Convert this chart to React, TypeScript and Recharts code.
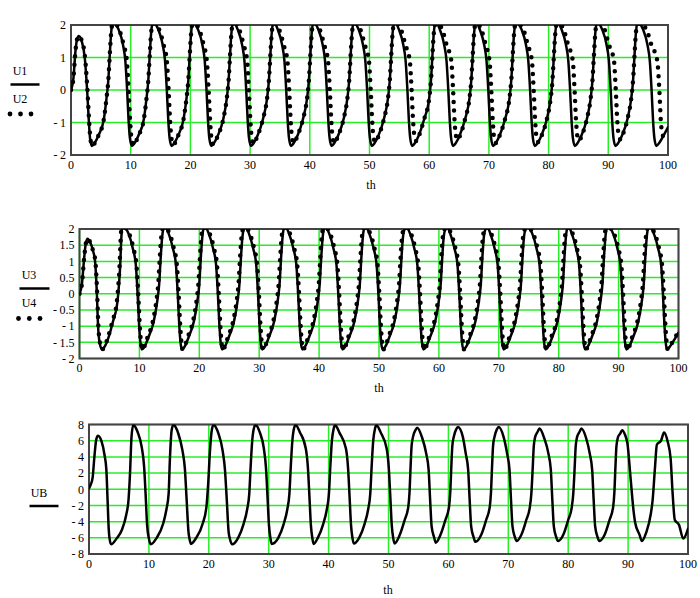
import React from "react";
import { LineChart, Line, XAxis, YAxis, CartesianGrid, ReferenceArea } from "recharts";

type Pt = [number, number];

const thTicks = [0, 10, 20, 30, 40, 50, 60, 70, 80, 90, 100];
const uTicks = [-2, -1, 0, 1, 2];
const u34Ticks = [-2, -1.5, -1, -0.5, 0, 0.5, 1, 1.5, 2];
const ubTicks = [-8, -6, -4, -2, 0, 2, 4, 6, 8];

// [th, U] points
const u1Points: Pt[] = [
  [0, 0], [0.4, 0.35], [0.75, 1.2], [1.0, 1.55], [1.3, 1.66], [1.8, 1.5], [2.3, 1.0], [2.7, 0], [3.0, -1.0], [3.2, -1.5], [3.5, -1.72],
  [4.0, -1.62], [4.6, -1.4], [5.5, -0.9], [5.95, -0.25], [6.25, 0.3], [6.5, 1.1], [6.7, 1.7], [6.9, 2.0], [7.2, 2.05],
  [8.0, 1.85], [8.7, 1.4], [9.1, 0.9], [9.4, 0], [9.65, -0.95], [9.87, -1.48], [10.2, -1.72],
  [10.7, -1.62], [11.3, -1.4], [12.2, -0.9], [12.65, -0.25], [12.95, 0.3], [13.2, 1.1], [13.4, 1.7], [13.6, 2.0], [13.9, 2.05],
  [14.65, 1.85], [15.35, 1.4], [15.75, 0.9], [16.05, 0], [16.3, -0.95], [16.52, -1.48], [16.85, -1.72],
  [17.35, -1.62], [17.95, -1.4], [18.85, -0.9], [19.35, -0.25], [19.65, 0.3], [19.9, 1.1], [20.1, 1.7], [20.3, 2.0], [20.6, 2.05],
  [21.3, 1.85], [22.0, 1.4], [22.4, 0.9], [22.7, 0], [22.95, -0.95], [23.17, -1.48], [23.5, -1.72],
  [24.0, -1.62], [24.6, -1.4], [25.5, -0.9], [26.1, -0.25], [26.4, 0.3], [26.65, 1.1], [26.85, 1.7], [27.05, 2.0], [27.35, 2.05],
  [27.95, 1.85], [28.65, 1.4], [29.05, 0.9], [29.35, 0], [29.6, -0.95], [29.82, -1.48], [30.15, -1.72],
  [30.65, -1.62], [31.25, -1.4], [32.15, -0.9], [32.85, -0.25], [33.15, 0.3], [33.4, 1.1], [33.6, 1.7], [33.8, 2.0], [34.1, 2.05],
  [34.65, 1.85], [35.35, 1.4], [35.75, 0.9], [36.05, 0], [36.3, -0.95], [36.52, -1.48], [36.85, -1.72],
  [37.35, -1.62], [37.95, -1.4], [38.85, -0.9], [39.55, -0.25], [39.85, 0.3], [40.1, 1.1], [40.3, 1.7], [40.5, 2.0], [40.8, 2.05],
  [41.45, 1.85], [42.15, 1.4], [42.55, 0.9], [42.85, 0], [43.1, -0.95], [43.32, -1.48], [43.65, -1.72],
  [44.15, -1.62], [44.75, -1.4], [45.65, -0.9], [46.3, -0.25], [46.6, 0.3], [46.85, 1.1], [47.05, 1.7], [47.25, 2.0], [47.55, 2.05],
  [48.2, 1.85], [48.9, 1.4], [49.3, 0.9], [49.6, 0], [49.85, -0.95], [50.07, -1.48], [50.4, -1.72],
  [50.9, -1.62], [51.5, -1.4], [52.4, -0.9], [53.1, -0.25], [53.4, 0.3], [53.65, 1.1], [53.85, 1.7], [54.05, 2.0], [54.35, 2.05],
  [54.95, 1.85], [55.65, 1.4], [56.05, 0.9], [56.35, 0], [56.6, -0.95], [56.82, -1.48], [57.15, -1.72],
  [57.65, -1.62], [58.25, -1.4], [59.15, -0.9], [60.0, -0.25], [60.3, 0.3], [60.55, 1.1], [60.75, 1.7], [60.95, 2.0], [61.25, 2.05],
  [61.8, 1.85], [62.5, 1.4], [62.9, 0.9], [63.2, 0], [63.45, -0.95], [63.67, -1.48], [64.0, -1.72],
  [64.5, -1.62], [65.1, -1.4], [66.0, -0.9], [66.75, -0.25], [67.05, 0.3], [67.3, 1.1], [67.5, 1.7], [67.7, 2.0], [68.0, 2.05],
  [68.5, 1.85], [69.2, 1.4], [69.6, 0.9], [69.9, 0], [70.15, -0.95], [70.37, -1.48], [70.7, -1.72],
  [71.2, -1.62], [71.8, -1.4], [72.7, -0.9], [73.45, -0.25], [73.75, 0.3], [74.0, 1.1], [74.2, 1.7], [74.4, 2.0], [74.7, 2.05],
  [75.5, 1.85], [76.2, 1.4], [76.6, 0.9], [76.9, 0], [77.15, -0.95], [77.37, -1.48], [77.7, -1.72],
  [78.2, -1.62], [78.8, -1.4], [79.7, -0.9], [80.35, -0.25], [80.65, 0.3], [80.9, 1.1], [81.1, 1.7], [81.3, 2.0], [81.6, 2.05],
  [82.2, 1.85], [82.9, 1.4], [83.3, 0.9], [83.6, 0], [83.85, -0.95], [84.07, -1.48], [84.4, -1.72],
  [84.9, -1.62], [85.5, -1.4], [86.4, -0.9], [87.05, -0.25], [87.35, 0.3], [87.6, 1.1], [87.8, 1.7], [88.0, 2.0], [88.3, 2.05],
  [89.0, 1.85], [89.7, 1.4], [90.1, 0.9], [90.4, 0], [90.65, -0.95], [90.87, -1.48], [91.2, -1.72],
  [91.7, -1.62], [92.3, -1.4], [93.2, -0.9], [93.85, -0.25], [94.15, 0.3], [94.4, 1.1], [94.6, 1.7], [94.8, 2.0], [95.1, 2.05],
  [95.85, 1.85], [96.55, 1.4], [96.95, 0.9], [97.25, 0], [97.5, -0.95], [97.72, -1.48], [98.05, -1.72],
  [98.55, -1.62], [99.2, -1.42], [100, -1.15],
];

const u2Points: Pt[] = [
  [0, 0], [0.4, 0.35], [0.75, 1.2], [1.0, 1.55], [1.3, 1.66], [1.8, 1.52], [2.35, 1.0], [2.75, 0], [3.05, -1.0], [3.25, -1.5], [3.55, -1.72],
  [4.0, -1.63], [4.6, -1.4], [5.5, -0.9], [5.95, -0.25], [6.25, 0.3], [6.5, 1.1], [6.7, 1.7], [6.9, 2.0], [7.3, 2.05],
  [8.1, 1.85], [8.8, 1.4], [9.35, 0.9], [9.65, 0], [9.9, -0.95], [10.12, -1.48], [10.45, -1.69],
  [11.3, -1.4], [12.2, -0.9], [12.65, -0.25], [12.95, 0.3], [13.2, 1.1], [13.4, 1.7], [13.6, 2.0], [14.0, 2.05],
  [14.8, 1.85], [15.5, 1.4], [16.05, 0.9], [16.35, 0], [16.6, -0.95], [16.82, -1.48], [17.15, -1.68],
  [17.95, -1.4], [18.85, -0.9], [19.35, -0.25], [19.65, 0.3], [19.9, 1.1], [20.1, 1.7], [20.3, 2.0], [20.7, 2.05],
  [21.5, 1.85], [22.2, 1.4], [22.75, 0.9], [23.05, 0], [23.3, -0.95], [23.52, -1.48], [23.85, -1.67],
  [24.6, -1.4], [25.5, -0.9], [26.1, -0.25], [26.4, 0.3], [26.65, 1.1], [26.85, 1.7], [27.05, 2.0], [27.5, 2.05],
  [28.2, 1.85], [28.9, 1.4], [29.5, 0.9], [29.8, 0], [30.05, -0.95], [30.27, -1.48], [30.6, -1.65],
  [31.25, -1.4], [32.15, -0.9], [32.85, -0.25], [33.15, 0.3], [33.4, 1.1], [33.6, 1.7], [33.8, 2.0], [34.25, 2.05],
  [34.9, 1.85], [35.6, 1.4], [36.25, 0.9], [36.55, 0], [36.8, -0.95], [37.02, -1.48], [37.35, -1.63],
  [37.95, -1.4], [38.85, -0.9], [39.55, -0.25], [39.85, 0.3], [40.1, 1.1], [40.3, 1.7], [40.5, 2.0], [40.95, 2.05],
  [41.7, 1.85], [42.4, 1.4], [43.05, 0.9], [43.35, 0], [43.6, -0.95], [43.82, -1.48], [44.15, -1.63],
  [44.75, -1.4], [45.65, -0.9], [46.3, -0.25], [46.6, 0.3], [46.85, 1.1], [47.05, 1.7], [47.25, 2.0], [47.7, 2.05],
  [48.5, 1.85], [49.2, 1.4], [49.9, 0.9], [50.2, 0], [50.45, -0.95], [50.67, -1.46], [51.0, -1.6],
  [51.5, -1.42], [52.4, -0.9], [53.1, -0.25], [53.4, 0.3], [53.65, 1.1], [53.85, 1.7], [54.05, 2.0], [54.5, 2.05],
  [55.3, 1.85], [56.0, 1.4], [56.75, 0.9], [57.05, 0], [57.3, -0.95], [57.52, -1.42], [57.85, -1.57],
  [58.3, -1.4], [59.15, -0.9], [60.0, -0.25], [60.3, 0.3], [60.55, 1.1], [60.75, 1.7], [60.95, 2.0], [61.4, 2.05],
  [62.2, 1.85], [62.9, 1.4], [63.7, 0.9], [64.0, 0], [64.25, -0.95], [64.47, -1.4], [64.8, -1.53],
  [65.2, -1.38], [66.0, -0.9], [66.75, -0.25], [67.05, 0.3], [67.3, 1.1], [67.5, 1.7], [67.7, 2.0], [68.1, 2.05],
  [68.75, 1.85], [69.45, 1.4], [70.1, 0.9], [70.4, 0], [70.65, -0.95], [70.87, -1.48], [71.2, -1.63],
  [71.8, -1.4], [72.7, -0.9], [73.45, -0.25], [73.75, 0.3], [74.0, 1.1], [74.2, 1.7], [74.4, 2.0], [74.85, 2.05],
  [75.8, 1.85], [76.5, 1.4], [77.2, 0.9], [77.5, 0], [77.75, -0.95], [77.97, -1.46], [78.3, -1.6],
  [78.8, -1.42], [79.7, -0.9], [80.35, -0.25], [80.65, 0.3], [80.9, 1.1], [81.1, 1.7], [81.3, 2.0], [81.75, 2.05],
  [82.55, 1.85], [83.25, 1.4], [84.05, 0.9], [84.35, 0], [84.6, -0.95], [84.82, -1.42], [85.15, -1.55],
  [85.55, -1.4], [86.4, -0.9], [87.05, -0.25], [87.35, 0.3], [87.6, 1.1], [87.8, 1.7], [88.0, 2.0], [88.45, 2.05],
  [89.4, 1.85], [90.1, 1.4], [90.95, 0.9], [91.25, 0], [91.5, -0.95], [91.72, -1.38], [92.05, -1.52],
  [92.4, -1.38], [93.2, -0.9], [93.85, -0.25], [94.15, 0.3], [94.4, 1.1], [94.6, 1.7], [94.8, 2.0], [95.3, 2.05],
  [96.4, 1.85], [97.2, 1.4], [98.2, 0.9], [98.55, 0], [98.8, -0.95], [99.05, -1.35], [99.4, -1.47], [100, -1.35],
];

// [th, U] points
const u3Points: Pt[] = [
  [0, 0], [0.4, 0.3], [0.8, 1.15], [1.05, 1.55], [1.35, 1.7], [1.8, 1.58], [2.3, 1.3], [2.6, 1.0], [2.9, 0], [3.1, -1.0], [3.35, -1.5], [3.75, -1.72],
  [4.25, -1.62], [4.85, -1.35], [5.6, -0.85], [6.3, -0.3], [6.6, 0.3], [6.8, 0.9], [6.95, 1.6], [7.1, 2.0], [7.4, 2.05],
  [8.2, 1.85], [8.9, 1.4], [9.4, 0.9], [9.7, 0], [9.95, -0.95], [10.15, -1.48], [10.4, -1.72],
  [10.9, -1.62], [11.5, -1.35], [12.4, -0.85], [13.0, -0.2], [13.3, 0.3], [13.55, 1.1], [13.8, 1.75], [14.0, 2.0], [14.3, 2.05],
  [14.9, 1.85], [15.6, 1.4], [16.1, 0.9], [16.4, 0], [16.65, -0.95], [16.85, -1.48], [17.1, -1.72],
  [17.6, -1.62], [18.2, -1.35], [19.1, -0.85], [19.7, -0.2], [20.0, 0.3], [20.25, 1.1], [20.5, 1.75], [20.7, 2.0], [21.0, 2.05],
  [21.6, 1.85], [22.3, 1.4], [22.8, 0.9], [23.1, 0], [23.35, -0.95], [23.55, -1.48], [23.8, -1.72],
  [24.3, -1.62], [24.9, -1.35], [25.8, -0.85], [26.4, -0.2], [26.7, 0.3], [26.95, 1.1], [27.2, 1.75], [27.45, 2.0], [27.75, 2.05],
  [28.3, 1.85], [29.0, 1.4], [29.5, 0.9], [29.8, 0], [30.05, -0.95], [30.25, -1.48], [30.5, -1.72],
  [31.0, -1.62], [31.6, -1.35], [32.5, -0.85], [33.1, -0.2], [33.4, 0.3], [33.65, 1.1], [33.9, 1.75], [34.1, 2.0], [34.4, 2.05],
  [35.0, 1.85], [35.7, 1.4], [36.2, 0.9], [36.5, 0], [36.75, -0.95], [36.95, -1.48], [37.2, -1.72],
  [37.7, -1.62], [38.3, -1.35], [39.2, -0.85], [39.8, -0.2], [40.1, 0.3], [40.35, 1.1], [40.6, 1.75], [40.8, 2.0], [41.1, 2.05],
  [41.7, 1.85], [42.4, 1.4], [42.9, 0.9], [43.2, 0], [43.45, -0.95], [43.65, -1.48], [43.9, -1.72],
  [44.4, -1.62], [45.0, -1.35], [45.9, -0.85], [46.5, -0.2], [46.8, 0.3], [47.05, 1.1], [47.3, 1.75], [47.5, 2.0], [47.8, 2.05],
  [48.4, 1.85], [49.1, 1.4], [49.6, 0.9], [49.9, 0], [50.15, -0.95], [50.35, -1.48], [50.6, -1.72],
  [51.1, -1.62], [51.7, -1.35], [52.6, -0.85], [53.2, -0.2], [53.5, 0.3], [53.75, 1.1], [54.0, 1.75], [54.3, 2.0], [54.6, 2.05],
  [55.2, 1.85], [55.9, 1.4], [56.4, 0.9], [56.7, 0], [56.95, -0.95], [57.15, -1.48], [57.4, -1.72],
  [57.9, -1.62], [58.5, -1.35], [59.4, -0.85], [60.0, -0.2], [60.3, 0.3], [60.55, 1.1], [60.8, 1.75], [61.1, 2.0], [61.4, 2.05],
  [61.9, 1.85], [62.6, 1.4], [63.1, 0.9], [63.4, 0], [63.65, -0.95], [63.85, -1.48], [64.1, -1.72],
  [64.6, -1.62], [65.2, -1.35], [66.1, -0.85], [66.7, -0.2], [67.0, 0.3], [67.25, 1.1], [67.5, 1.75], [67.8, 2.0], [68.1, 2.05],
  [68.6, 1.85], [69.3, 1.4], [69.8, 0.9], [70.1, 0], [70.35, -0.95], [70.55, -1.48], [70.8, -1.72],
  [71.3, -1.62], [71.9, -1.35], [72.8, -0.85], [73.4, -0.2], [73.7, 0.3], [73.95, 1.1], [74.2, 1.75], [74.5, 2.0], [74.8, 2.05],
  [75.6, 1.85], [76.3, 1.4], [76.8, 0.9], [77.1, 0], [77.35, -0.95], [77.55, -1.48], [77.8, -1.72],
  [78.3, -1.62], [78.9, -1.35], [79.8, -0.85], [80.4, -0.2], [80.7, 0.3], [80.95, 1.1], [81.2, 1.75], [81.4, 2.0], [81.7, 2.05],
  [82.2, 1.85], [82.9, 1.4], [83.4, 0.9], [83.7, 0], [83.95, -0.95], [84.15, -1.48], [84.4, -1.72],
  [84.9, -1.62], [85.5, -1.35], [86.4, -0.85], [87.0, -0.2], [87.3, 0.3], [87.55, 1.1], [87.8, 1.75], [88.0, 2.0], [88.3, 2.05],
  [89.1, 1.85], [89.8, 1.4], [90.3, 0.9], [90.6, 0], [90.85, -0.95], [91.05, -1.48], [91.3, -1.72],
  [91.8, -1.62], [92.4, -1.35], [93.3, -0.85], [93.9, -0.2], [94.2, 0.3], [94.45, 1.1], [94.7, 1.75], [94.9, 2.0], [95.2, 2.05],
  [95.9, 1.85], [96.6, 1.4], [97.1, 0.9], [97.4, 0], [97.65, -0.95], [97.85, -1.48], [98.1, -1.72],
  [98.6, -1.62], [99.2, -1.45], [100, -1.2],
];

const u4Points: Pt[] = [
  [0, 0], [0.4, 0.3], [0.8, 1.15], [1.05, 1.55], [1.35, 1.7], [1.8, 1.58], [2.3, 1.3], [2.65, 1.0], [2.95, 0], [3.15, -1.0], [3.4, -1.5], [3.8, -1.72],
  [4.2, -1.62], [4.75, -1.35], [5.5, -0.85], [6.2, -0.3], [6.5, 0.3], [6.7, 0.9], [6.85, 1.6], [7.0, 2.0], [7.4, 2.05],
  [8.3, 1.85], [9.0, 1.4], [9.5, 0.9], [9.8, 0], [10.05, -0.95], [10.25, -1.48], [10.45, -1.72],
  [10.85, -1.62], [11.35, -1.35], [12.25, -0.85], [12.85, -0.2], [13.15, 0.3], [13.4, 1.1], [13.65, 1.75], [13.85, 2.0], [14.3, 2.05],
  [15.05, 1.85], [15.75, 1.4], [16.25, 0.9], [16.55, 0], [16.8, -0.95], [17.0, -1.48], [17.2, -1.72],
  [17.6, -1.62], [18.05, -1.35], [18.95, -0.85], [19.55, -0.2], [19.85, 0.3], [20.1, 1.1], [20.35, 1.75], [20.55, 2.0], [21.0, 2.05],
  [21.75, 1.85], [22.45, 1.4], [22.95, 0.9], [23.25, 0], [23.5, -0.95], [23.7, -1.48], [23.9, -1.72],
  [24.3, -1.62], [24.75, -1.35], [25.65, -0.85], [26.25, -0.2], [26.55, 0.3], [26.8, 1.1], [27.05, 1.75], [27.3, 2.0], [27.75, 2.05],
  [28.45, 1.85], [29.15, 1.4], [29.65, 0.9], [29.95, 0], [30.2, -0.95], [30.4, -1.48], [30.6, -1.72],
  [31.0, -1.62], [31.45, -1.35], [32.35, -0.85], [32.95, -0.2], [33.25, 0.3], [33.5, 1.1], [33.75, 1.75], [33.95, 2.0], [34.4, 2.05],
  [35.15, 1.85], [35.85, 1.4], [36.35, 0.9], [36.65, 0], [36.9, -0.95], [37.1, -1.48], [37.3, -1.72],
  [37.7, -1.62], [38.15, -1.35], [39.05, -0.85], [39.65, -0.2], [39.95, 0.3], [40.2, 1.1], [40.45, 1.75], [40.65, 2.0], [41.1, 2.05],
  [41.85, 1.85], [42.55, 1.4], [43.05, 0.9], [43.35, 0], [43.6, -0.95], [43.8, -1.48], [44.0, -1.72],
  [44.4, -1.62], [44.85, -1.35], [45.75, -0.85], [46.35, -0.2], [46.65, 0.3], [46.9, 1.1], [47.15, 1.75], [47.35, 2.0], [47.8, 2.05],
  [48.55, 1.85], [49.25, 1.4], [49.75, 0.9], [50.05, 0], [50.3, -0.95], [50.5, -1.48], [50.7, -1.72],
  [51.1, -1.62], [51.55, -1.35], [52.45, -0.85], [53.05, -0.2], [53.35, 0.3], [53.6, 1.1], [53.85, 1.75], [54.15, 2.0], [54.6, 2.05],
  [55.35, 1.85], [56.05, 1.4], [56.55, 0.9], [56.85, 0], [57.1, -0.95], [57.3, -1.48], [57.5, -1.72],
  [57.9, -1.62], [58.35, -1.35], [59.25, -0.85], [59.85, -0.2], [60.15, 0.3], [60.4, 1.1], [60.65, 1.75], [60.95, 2.0], [61.4, 2.05],
  [62.05, 1.85], [62.75, 1.4], [63.25, 0.9], [63.55, 0], [63.8, -0.95], [64.0, -1.48], [64.2, -1.72],
  [64.6, -1.62], [65.05, -1.35], [65.95, -0.85], [66.55, -0.2], [66.85, 0.3], [67.1, 1.1], [67.35, 1.75], [67.65, 2.0], [68.1, 2.05],
  [68.75, 1.85], [69.45, 1.4], [69.95, 0.9], [70.25, 0], [70.5, -0.95], [70.7, -1.48], [70.9, -1.72],
  [71.3, -1.62], [71.75, -1.35], [72.65, -0.85], [73.25, -0.2], [73.55, 0.3], [73.8, 1.1], [74.05, 1.75], [74.35, 2.0], [74.8, 2.05],
  [75.75, 1.85], [76.45, 1.4], [76.95, 0.9], [77.25, 0], [77.5, -0.95], [77.7, -1.48], [77.9, -1.72],
  [78.3, -1.62], [78.75, -1.35], [79.65, -0.85], [80.25, -0.2], [80.55, 0.3], [80.8, 1.1], [81.05, 1.75], [81.25, 2.0], [81.7, 2.05],
  [82.35, 1.85], [83.05, 1.4], [83.55, 0.9], [83.85, 0], [84.1, -0.95], [84.3, -1.48], [84.5, -1.72],
  [84.9, -1.62], [85.35, -1.35], [86.25, -0.85], [86.85, -0.2], [87.15, 0.3], [87.4, 1.1], [87.65, 1.75], [87.85, 2.0], [88.3, 2.05],
  [89.25, 1.85], [89.95, 1.4], [90.45, 0.9], [90.75, 0], [91.0, -0.95], [91.2, -1.48], [91.4, -1.72],
  [91.8, -1.62], [92.25, -1.35], [93.15, -0.85], [93.75, -0.2], [94.05, 0.3], [94.3, 1.1], [94.55, 1.75], [94.75, 2.0], [95.2, 2.05],
  [96.05, 1.85], [96.75, 1.4], [97.25, 0.9], [97.55, 0], [97.8, -0.95], [98.0, -1.48], [98.2, -1.72],
  [98.6, -1.62], [99.2, -1.42], [100, -1.18],
];

// [th, UB] points
const ubPoints: Pt[] = [
  [0, 0.1], [0.3, 0.6], [0.6, 1.4], [0.9, 4.0], [1.2, 6.1], [1.5, 6.6], [2.1, 5.9], [2.6, 4.2], [2.9, 2.4], [3.1, -1.3], [3.3, -5.0], [3.45, -6.2], [3.7, -6.8],
  [4.6, -6.1], [5.5, -5.0], [6.2, -3.2], [6.6, -1.3], [6.85, 2.0], [7.1, 6.5], [7.4, 7.95],
  [8.1, 7.1], [8.8, 5.2], [9.2, 2.8], [9.45, -0.6], [9.7, -4.4], [10.0, -6.1], [10.3, -6.8],
  [11.3, -6.0], [12.4, -4.2], [12.9, -2.6], [13.3, -0.5], [13.5, 3.6], [13.8, 7.3], [14.1, 7.95],
  [14.9, 6.9], [15.6, 4.8], [16.0, 2.6], [16.3, -1.3], [16.6, -5.2], [16.8, -6.2], [17.0, -6.75],
  [17.9, -6.0], [19.0, -4.2], [19.6, -2.2], [19.9, 0.7], [20.2, 4.8], [20.5, 7.3], [20.8, 7.95],
  [21.6, 6.9], [22.3, 4.8], [22.7, 2.4], [23.0, -1.3], [23.3, -5.2], [23.55, -6.2], [23.9, -6.8],
  [24.9, -6.0], [25.8, -4.3], [26.4, -2.5], [26.75, -0.6], [27.0, 3.0], [27.25, 6.0], [27.55, 7.6], [27.8, 7.95],
  [28.5, 7.05], [29.2, 5.0], [29.55, 2.6], [29.8, -0.9], [30.05, -4.5], [30.3, -6.1], [30.5, -6.75],
  [31.6, -6.0], [32.5, -4.3], [33.1, -2.5], [33.45, -0.6], [33.7, 3.0], [33.95, 6.0], [34.25, 7.6], [34.5, 7.95],
  [35.2, 7.05], [36.2, 5.0], [36.55, 2.6], [36.8, -0.9], [37.05, -4.5], [37.3, -6.1], [37.5, -6.75],
  [38.2, -6.0], [39.1, -4.3], [39.7, -2.5], [40.05, -0.6], [40.3, 3.0], [40.55, 6.0], [40.85, 7.5], [41.1, 7.9],
  [41.8, 7.0], [42.9, 5.0], [43.25, 2.6], [43.5, -0.9], [43.75, -4.5], [44.0, -6.1], [44.2, -6.7],
  [45.1, -6.0], [46.0, -4.3], [46.6, -2.5], [46.95, -0.6], [47.2, 3.0], [47.45, 6.0], [47.75, 7.5], [48.0, 7.9],
  [48.7, 7.0], [49.7, 5.0], [50.05, 2.6], [50.3, -0.9], [50.55, -4.5], [50.8, -6.1], [51.0, -6.7],
  [51.9, -5.6], [52.7, -3.8], [53.3, -2.2], [53.5, -0.5], [53.7, 3.0], [53.85, 5.3], [54.1, 6.5], [54.5, 7.3], [54.8, 7.6],
  [55.6, 6.4], [56.3, 4.4], [56.7, 2.4], [56.95, -1.3], [57.2, -4.6], [57.6, -5.9], [57.9, -6.6],
  [58.7, -5.6], [59.5, -3.8], [60.1, -2.2], [60.3, -0.5], [60.5, 3.0], [60.65, 5.3], [60.9, 6.5], [61.3, 7.4], [61.6, 7.7],
  [62.4, 6.5], [62.9, 4.4], [63.3, 2.4], [63.55, -1.3], [63.8, -4.6], [64.2, -5.9], [64.5, -6.5],
  [65.5, -5.6], [66.3, -3.8], [66.9, -2.2], [67.1, -0.5], [67.3, 3.0], [67.45, 5.3], [67.7, 6.5], [68.1, 7.4], [68.4, 7.7],
  [69.2, 6.5], [69.8, 4.4], [70.2, 2.4], [70.45, -1.3], [70.7, -4.6], [71.1, -5.9], [71.4, -6.4],
  [72.2, -5.6], [73.0, -3.8], [73.6, -2.2], [73.85, -0.5], [74.1, 3.0], [74.25, 5.3], [74.5, 6.5], [74.9, 7.1], [75.2, 7.5],
  [76.0, 6.3], [76.7, 4.4], [77.1, 2.4], [77.35, -1.3], [77.6, -4.6], [78.0, -5.9], [78.3, -6.4],
  [79.2, -5.6], [80.0, -3.8], [80.6, -2.2], [80.85, -0.5], [81.1, 3.0], [81.25, 5.3], [81.5, 6.5], [81.9, 7.1], [82.2, 7.5],
  [83.0, 6.3], [83.6, 4.4], [84.0, 2.4], [84.25, -1.3], [84.5, -4.6], [84.9, -5.9], [85.2, -6.4],
  [86.1, -5.6], [86.9, -3.8], [87.5, -2.2], [87.7, -0.5], [87.9, 3.0], [88.05, 5.3], [88.3, 6.4], [88.7, 6.9], [89.0, 7.3],
  [89.5, 6.7], [89.9, 5.6], [90.4, 1.5], [90.9, -2.6], [91.2, -4.2], [91.9, -5.6], [92.3, -6.4],
  [93.0, -5.4], [93.8, -3.0], [94.1, -1.3], [94.5, 2.8], [94.8, 5.5], [95.5, 6.0], [96.0, 7.0],
  [96.6, 5.9], [97.1, 3.8], [97.4, -0.1], [97.8, -3.8], [98.5, -4.4], [99.2, -6.1], [100, -4.9],
];

const SERIF = "'Liberation Serif', 'Times New Roman', serif";
const GRID = "#28ee28";
const FRAME = "#444";

const toRows = (pts: Pt[]) => pts.map(([th, v]) => ({ th, v }));

const fmtTick = (v: number) => (v < 0 ? `-\u2009${Math.abs(v)}` : `${v}`);

interface Series {
  name: string;
  points: Pt[];
  dotted?: boolean;
}

interface PanelProps {
  top: number;
  height: number;
  plot: { left: number; right: number; top: number; bottom: number };
  yDomain: [number, number];
  yTicks: number[];
  series: Series[];
}

const Y_AXIS_W = 40;
const X_AXIS_H = 30;

const Panel = ({ top, height, plot, yDomain, yTicks, series }: PanelProps) => {
  const margin = {
    top: plot.top - top,
    right: 700 - plot.right,
    left: plot.left - Y_AXIS_W,
    bottom: top + height - plot.bottom - X_AXIS_H,
  };
  const tickStyle = { fill: "#000", fontSize: 12, fontFamily: SERIF };
  return (
    <div style={{ position: "absolute", left: 0, top }}>
      <LineChart width={700} height={height} margin={margin}>
        <CartesianGrid stroke={GRID} strokeWidth={1.5} />
        <XAxis
          dataKey="th"
          type="number"
          domain={[0, 100]}
          ticks={thTicks}
          interval={0}
          allowDataOverflow
          axisLine={false}
          tickLine={false}
          tickSize={0}
          tickMargin={5}
          height={X_AXIS_H}
          tick={tickStyle}
        />
        <YAxis
          type="number"
          domain={yDomain}
          ticks={yTicks}
          interval={0}
          allowDataOverflow
          axisLine={false}
          tickLine={false}
          tickSize={0}
          tickMargin={5}
          width={Y_AXIS_W}
          tick={tickStyle}
          tickFormatter={fmtTick}
        />
        {series.map((s) => (
          <Line
            key={s.name}
            data={toRows(s.points)}
            dataKey="v"
            type="monotone"
            stroke="#000"
            strokeWidth={s.dotted ? 4.5 : 2.5}
            strokeDasharray={s.dotted ? "0 8.5" : undefined}
            strokeLinecap="round"
            dot={false}
            activeDot={false}
            isAnimationActive={false}
          />
        ))}
        <ReferenceArea
          x1={0}
          x2={100}
          y1={yDomain[0]}
          y2={yDomain[1]}
          fill="none"
          stroke={FRAME}
          strokeWidth={2}
          ifOverflow="visible"
        />
      </LineChart>
    </div>
  );
};

const textStyle = { fontFamily: SERIF, fontSize: 12, fill: "#000" };

export default function App() {
  return (
    <div style={{ position: "absolute", left: 0, top: 0, width: 700, height: 598, background: "#fff" }}>
      <Panel
        top={0}
        height={200}
        plot={{ left: 71, right: 668, top: 25, bottom: 155 }}
        yDomain={[-2, 2]}
        yTicks={uTicks}
        series={[
          { name: "U1", points: u1Points },
          { name: "U2", points: u2Points, dotted: true },
        ]}
      />
      <Panel
        top={200}
        height={200}
        plot={{ left: 79.5, right: 678.5, top: 229, bottom: 358.5 }}
        yDomain={[-2, 2]}
        yTicks={u34Ticks}
        series={[
          { name: "U3", points: u3Points },
          { name: "U4", points: u4Points, dotted: true },
        ]}
      />
      <Panel
        top={398}
        height={200}
        plot={{ left: 89, right: 688, top: 424.5, bottom: 554 }}
        yDomain={[-8, 8]}
        yTicks={ubTicks}
        series={[{ name: "UB", points: ubPoints }]}
      />
      {/* legends and axis titles */}
      <svg width={700} height={598} style={{ position: "absolute", left: 0, top: 0, pointerEvents: "none" }}>
        <text x={20} y={75} textAnchor="middle" style={textStyle}>U1</text>
        <line x1={10.5} x2={39.5} y1={84.5} y2={84.5} stroke="#000" strokeWidth={2.5} />
        <text x={20} y={103} textAnchor="middle" style={textStyle}>U2</text>
        {[10, 20.5, 31].map((cx) => (
          <circle key={cx} cx={cx} cy={114} r={2.4} fill="#000" />
        ))}
        <text x={371} y={189} textAnchor="middle" style={textStyle}>th</text>

        <text x={29} y={279} textAnchor="middle" style={textStyle}>U3</text>
        <line x1={19.5} x2={49.5} y1={288.5} y2={288.5} stroke="#000" strokeWidth={2.5} />
        <text x={29} y={307} textAnchor="middle" style={textStyle}>U4</text>
        {[18.5, 29.3, 40].map((cx) => (
          <circle key={cx} cx={cx} cy={318.5} r={2.4} fill="#000" />
        ))}
        <text x={379} y={392} textAnchor="middle" style={textStyle}>th</text>

        <text x={39} y={497} textAnchor="middle" style={textStyle}>UB</text>
        <line x1={29.5} x2={58.5} y1={506} y2={506} stroke="#000" strokeWidth={2.5} />
        <text x={388} y={594} textAnchor="middle" style={textStyle}>th</text>
      </svg>
    </div>
  );
}
